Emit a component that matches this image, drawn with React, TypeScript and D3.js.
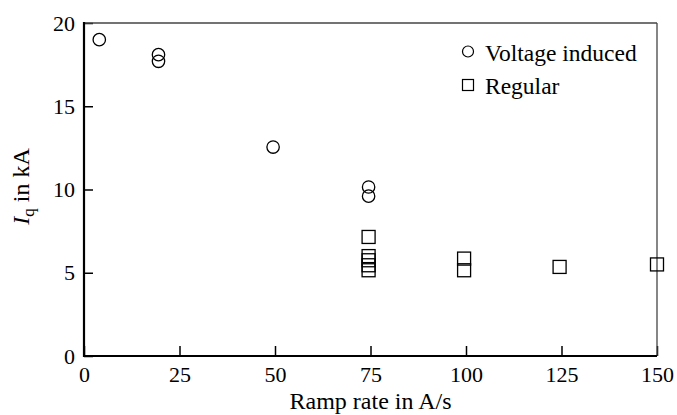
import * as d3 from "d3";
import { useEffect, useRef } from "react";

// Voltage induced quenches (circles)
const voltageRates = [4, 19.5, 19.5, 49.5, 74.5, 74.5];
const voltageIq = [19.0, 18.1, 17.7, 12.55, 10.15, 9.6];

// Regular quenches (squares)
const regularRates = [74.5, 74.5, 74.5, 74.5, 74.5, 99.5, 99.5, 124.5, 150];
const regularIq = [7.15, 6.0, 5.75, 5.45, 5.15, 5.85, 5.15, 5.35, 5.5];

const xTicks = [0, 25, 50, 75, 100, 125, 150];
const yTicks = [0, 5, 10, 15, 20];

const W = 677;
const H = 415;
const margin = { top: 23, right: 20, bottom: 59, left: 84 };
const FONT = "'Liberation Serif', 'Times New Roman', serif";

export default function App() {
  const svgRef = useRef<SVGSVGElement>(null);

  useEffect(() => {
    const svg = d3.select(svgRef.current);
    svg.selectAll("*").remove();
    const innerW = W - margin.left - margin.right;
    const innerH = H - margin.top - margin.bottom;

    const x = d3.scaleLinear().domain([0, 150]).range([0, innerW]);
    const y = d3.scaleLinear().domain([0, 20]).range([innerH, 0]);

    const g = svg.append("g").attr("transform", `translate(${margin.left},${margin.top})`);

    // axes (ticks point inward)
    const gx = g.append("g")
      .attr("transform", `translate(0,${innerH})`)
      .call(d3.axisBottom(x).tickValues(xTicks).tickSizeInner(-10).tickSizeOuter(0).tickPadding(10));
    const gy = g.append("g")
      .call(d3.axisLeft(y).tickValues(yTicks).tickSizeInner(-9).tickSizeOuter(0).tickPadding(9));

    for (const ax of [gx, gy]) {
      ax.select(".domain").remove();
      ax.selectAll(".tick line").attr("stroke", "#000").attr("stroke-width", 1.5);
      ax.selectAll(".tick text")
        .attr("font-family", FONT)
        .attr("font-size", 22)
        .attr("fill", "#000");
    }

    // frame
    g.append("line").attr("x1", 0).attr("x2", innerW).attr("y1", 0).attr("y2", 0)
      .attr("stroke", "#444").attr("stroke-width", 1.3);
    g.append("line").attr("x1", innerW).attr("x2", innerW).attr("y1", 0).attr("y2", innerH)
      .attr("stroke", "#444").attr("stroke-width", 1.3);
    g.append("line").attr("x1", 0).attr("x2", 0).attr("y1", -1).attr("y2", innerH + 1)
      .attr("stroke", "#000").attr("stroke-width", 2.2);
    g.append("line").attr("x1", -1).attr("x2", innerW).attr("y1", innerH).attr("y2", innerH)
      .attr("stroke", "#000").attr("stroke-width", 2.2);

    // data
    const circles = voltageRates.map((r, i) => ({ r, v: voltageIq[i] }));
    const squares = regularRates.map((r, i) => ({ r, v: regularIq[i] }));

    g.selectAll("circle.vi").data(circles).enter().append("circle")
      .attr("class", "vi")
      .attr("cx", (d) => x(d.r))
      .attr("cy", (d) => y(d.v))
      .attr("r", 6.2)
      .attr("fill", "none")
      .attr("stroke", "#000")
      .attr("stroke-width", 1.3);

    const s = 13;
    g.selectAll("rect.reg").data(squares).enter().append("rect")
      .attr("class", "reg")
      .attr("x", (d) => x(d.r) - s / 2)
      .attr("y", (d) => y(d.v) - s / 2)
      .attr("width", s)
      .attr("height", s)
      .attr("fill", "none")
      .attr("stroke", "#000")
      .attr("stroke-width", 1.3);

    // legend
    const lg = svg.append("g").attr("font-family", FONT).attr("font-size", 23.5);
    lg.append("circle").attr("cx", 468).attr("cy", 51.5).attr("r", 5.5)
      .attr("fill", "none").attr("stroke", "#000").attr("stroke-width", 1.2);
    lg.append("text").attr("x", 485).attr("y", 61).text("Voltage induced");
    lg.append("rect").attr("x", 462.5).attr("y", 79.5).attr("width", 11).attr("height", 11)
      .attr("fill", "none").attr("stroke", "#000").attr("stroke-width", 1.2);
    lg.append("text").attr("x", 485).attr("y", 94).text("Regular");

    // axis titles
    svg.append("text")
      .attr("x", margin.left + innerW / 2)
      .attr("y", 409)
      .attr("text-anchor", "middle")
      .attr("font-family", FONT)
      .attr("font-size", 24)
      .text("Ramp rate in A/s");

    const yt = svg.append("text")
      .attr("transform", `translate(29,${margin.top + innerH / 2 - 3}) rotate(-90)`)
      .attr("text-anchor", "middle")
      .attr("font-family", FONT)
      .attr("font-size", 24);
    yt.append("tspan").attr("font-style", "italic").text("I");
    yt.append("tspan").attr("font-size", 17).attr("dy", 5).text("q");
    yt.append("tspan").attr("dy", -5).text(" in kA");
  }, []);

  return (
    <svg
      ref={svgRef}
      width={W}
      height={H}
      style={{ position: "absolute", left: 0, top: 0, background: "#fff" }}
    />
  );
}
